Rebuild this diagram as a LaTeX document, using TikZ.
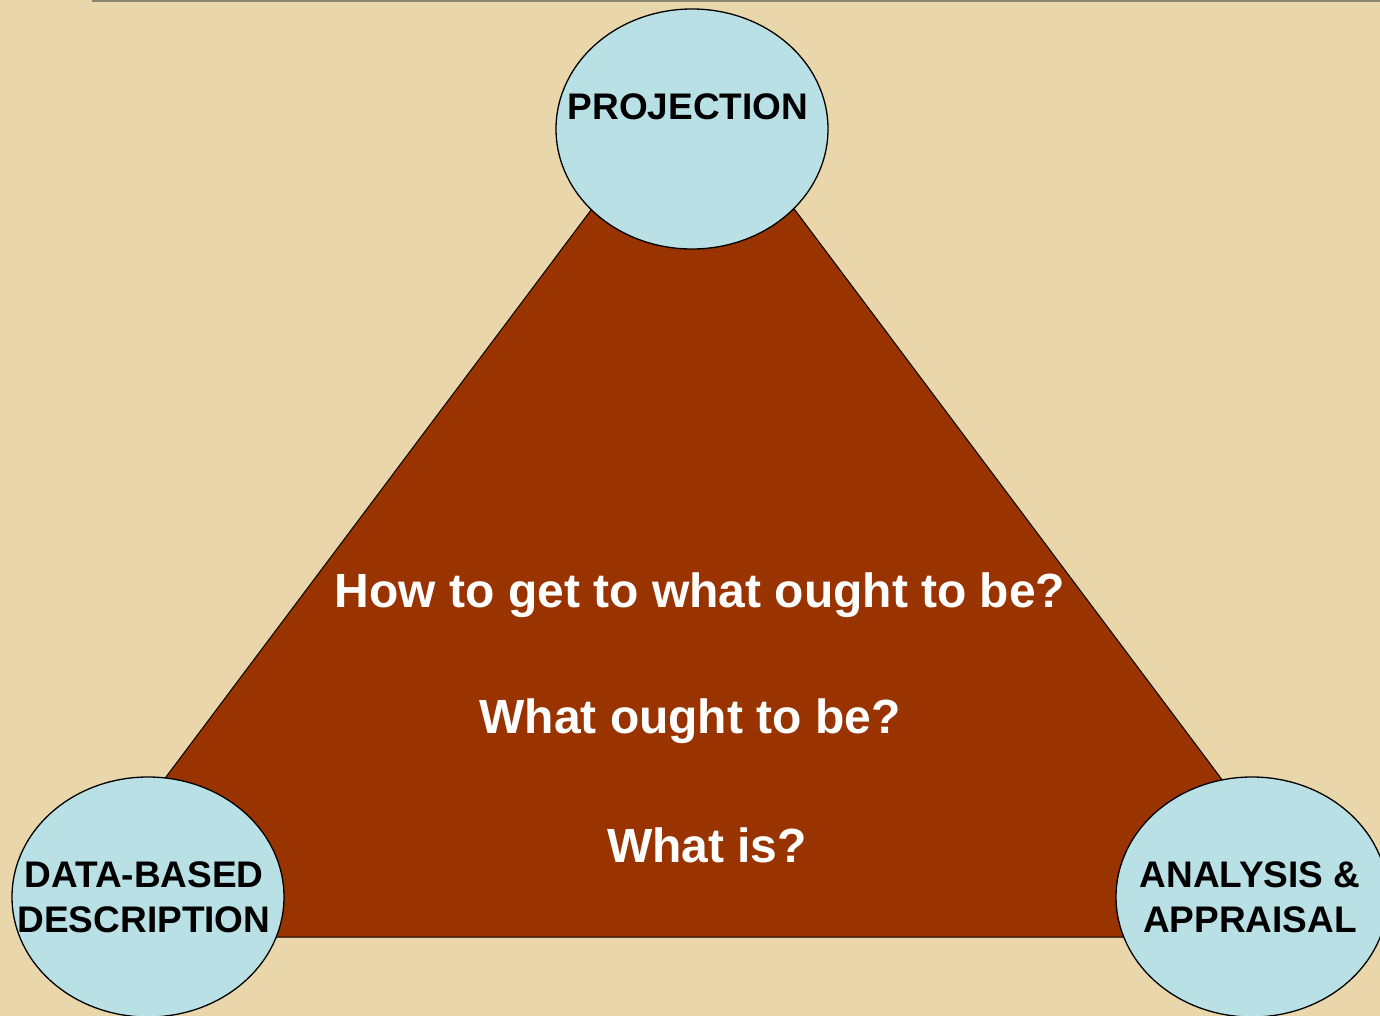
\documentclass[tikz,border=0pt]{standalone}
\usepackage{fontspec}
\setmainfont{Liberation Sans}
\usetikzlibrary{shapes.geometric}
\definecolor{brick}{HTML}{993300}
\definecolor{paleblue}{RGB}{185,224,228}
\definecolor{parchment}{RGB}{233,214,170}
\definecolor{rulegrey}{RGB}{140,134,118}

\begin{document}
\begin{tikzpicture}[x=1pt,y=-1pt,
		corner/.style={ellipse,draw=black,line width=1.3pt,fill=paleblue,minimum width=272pt,minimum height=240pt,inner sep=0pt},
		cornertext/.style={inner sep=0pt,align=center,font=\fontsize{37}{45}\selectfont\bfseries},
		question/.style={anchor=base,text=white,font=\fontsize{48}{58}\selectfont\bfseries}]
	\clip (0,0) rectangle (1380,1016);
	\fill[parchment] (0,0) rectangle (1380,1016);
	\draw[rulegrey,line width=2pt] (92,1) -- (1380,1);
	
	\coordinate (T) at (693,74);
	\coordinate (L) at (46,937);
	\coordinate (R) at (1340,937);
	
	\draw[fill=brick,line width=1pt] (L) -- (R) -- (T) -- cycle;
	
	\node[corner] (proj) at (692,129) {};
	\node[corner] (data) at (148,897) {};
	\node[corner] (anal) at (1252,897) {};
	\node[cornertext] (projtext) at (688,129) {PROJECTION\\\mbox{}};
	\node[cornertext] (datatext) at (144,897) {DATA-BASED\\DESCRIPTION};
	\node[cornertext] (analtext) at (1250,897) {ANALYSIS \&\\APPRAISAL};
	
	\node[question] (howq) at (700,607) {How to get to what ought to be?};
	\node[question] (oughtq) at (690,733) {What ought to be?};
	\node[question] (isq) at (707,862) {What is?};
\end{tikzpicture}
\end{document}
